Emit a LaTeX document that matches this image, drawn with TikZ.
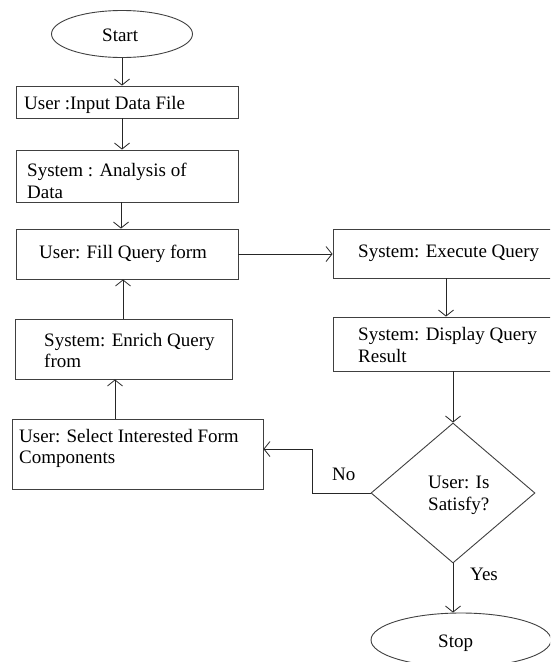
\documentclass[tikz,border=0pt]{standalone}
\usepackage{fontspec}
\setmainfont{Liberation Serif}
\usetikzlibrary{shapes.geometric,arrows.meta,calc}
\begin{document}
\begin{tikzpicture}[x=1pt,y=-1pt,
  box/.style={draw=black!75,line width=0.9pt,rectangle,inner sep=0pt},
  term/.style={draw=black!75,line width=0.9pt,ellipse,inner sep=0pt},
  decision/.style={draw=black!75,line width=0.9pt,diamond,inner sep=0pt},
  txt/.style={inner sep=0pt,anchor=base west,align=left,font=\fontsize{19}{22}\selectfont},
  flow/.style={draw=black!85,line width=0.8pt,-{Straight Barb[length=6pt,width=15pt,line width=0.8pt]}}]
\useasboundingbox (0,0) rectangle (550,662);
\clip (0,0) rectangle (550,662);
\fill[white] (0,0) rectangle (550,662);

% terminals
\node[term,minimum width=141pt,minimum height=47pt] (start) at (122,34) {};
\node[txt] (tstart) at (102,41) {Start};
\node[term,minimum width=180pt,minimum height=54pt] (stop) at (461,640) {};
\node[txt] (tstop) at (438,647) {Stop};

% process boxes, left column
\node[box,minimum width=222pt,minimum height=32pt] (b1) at (127,102) {};
\node[box,minimum width=222pt,minimum height=52pt] (b2) at (127,176) {};
\node[box,minimum width=222pt,minimum height=50pt] (b3) at (127,254) {};
\node[box,minimum width=217pt,minimum height=60pt] (b4) at (123.5,349) {};
\node[box,minimum width=251pt,minimum height=70pt] (b5) at (137.5,454) {};

% process boxes, right column
\node[box,minimum width=227pt,minimum height=49pt] (b6) at (446.5,253.5) {};
\node[box,minimum width=227pt,minimum height=54pt] (b7) at (446.5,344) {};

% decision
\node[decision,minimum width=164pt,minimum height=140pt] (d) at (453,493) {};

% box texts
\node[txt] (t1) at (24,109) {User :Input Data File};
\node[txt] (t2a) at (27,176) {System : Analysis of};
\node[txt] (t2b) at (27,198) {Data};
\node[txt] (t3) at (39,258) {User: Fill Query form};
\node[txt] (t4a) at (44,346) {System: Enrich Query};
\node[txt] (t4b) at (44,367) {from};
\node[txt] (t5a) at (19,442) {User: Select Interested Form};
\node[txt] (t5b) at (19,463) {Components};
\node[txt] (t6) at (358,257) {System: Execute Query};
\node[txt] (t7a) at (358,340) {System: Display Query};
\node[txt] (t7b) at (358,362) {Result};
\node[txt] (tda) at (428,488) {User: Is};
\node[txt] (tdb) at (428,510) {Satisfy?};
\node[txt] (lno) at (332,480) {No};
\node[txt] (lyes) at (470,580) {Yes};

% connector end points on the box edges
\coordinate (x122) at (122,0);
\coordinate (x121) at (121,0);
\coordinate (x123) at (123,0);
\coordinate (x115) at (115,0);
\coordinate (x446) at (446,0);
\coordinate (x453) at (453,0);
\coordinate (bend1) at (312,493);
\coordinate (bend2) at (312,449);

% connectors
\draw[flow] (start.south) -- (start.south |- b1.north);
\draw[flow] (x122 |- b1.south) -- (x122 |- b2.north);
\draw[flow] (x121 |- b2.south) -- (x121 |- b3.north);
\draw[flow] (x123 |- b4.north) -- (x123 |- b3.south);
\draw[flow] (x115 |- b5.north) -- (x115 |- b4.south);
\draw[flow] (b3.east) -- (b3.east -| b6.west);
\draw[flow] (x446 |- b6.south) -- (x446 |- b7.north);
\draw[flow] (x453 |- b7.south) -- (d.north);
\draw[flow] (d.west) -- (bend1) -- (bend2) -- (bend2 -| b5.east);
\draw[flow] (d.south) -- (d.south |- stop.north);
\end{tikzpicture}
\end{document}
